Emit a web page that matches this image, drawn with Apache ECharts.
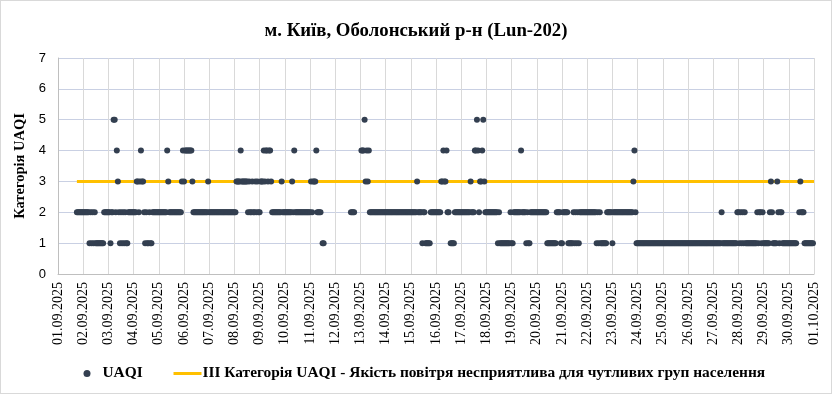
<!DOCTYPE html>
<html>
<head>
<meta charset="utf-8">
<script src="https://cdn.jsdelivr.net/npm/echarts@6/dist/echarts.min.js"></script>
<style>
html,body{margin:0;padding:0;background:#fff;}
#chart{width:832px;height:394px;box-sizing:border-box;border:1px solid #D9D9D9;}
</style>
</head>
<body>
<div id="chart"></div>
<script>
// Tick labels (one per day, 00:00)
const dateLabels = ['01.09.2025','02.09.2025','03.09.2025','04.09.2025','05.09.2025','06.09.2025','07.09.2025','08.09.2025','09.09.2025','10.09.2025','11.09.2025','12.09.2025','13.09.2025','14.09.2025','15.09.2025','16.09.2025','17.09.2025','18.09.2025','19.09.2025','20.09.2025','21.09.2025','22.09.2025','23.09.2025','24.09.2025','25.09.2025','26.09.2025','27.09.2025','28.09.2025','29.09.2025','30.09.2025','01.10.2025'];

// Hourly UAQI category per day (24 chars = hours 00..23, '-' = no data)
const uaqiByDay = [
  '------------------222222', // 01.09
  '222222121212111111112222', // 02.09
  '221225524321212121122222', // 03.09
  '222332343321211211222222', // 04.09
  '222222224322222222222234', // 05.09
  '344444443222222222222223', // 06.09
  '222222222222222222222222', // 07.09
  '223333433333323223223232', // 08.09
  '233343443443222222222322', // 09.09
  '222222232422222222222222', // 10.09
  '23233342222-11----------', // 11.09
  '---------------2222-----', // 12.09
  '-44453434222222222222222', // 13.09
  '222222222222222222222222', // 14.09
  '222222322221221111122222', // 15.09
  '2222233433422-1111222222', // 16.09
  '222222222322244542334532', // 17.09
  '222222222221211111111112', // 18.09
  '112222222422221211222222', // 19.09
  '222222222211111111122221', // 20.09
  '122222111112121212222222', // 21.09
  '222222222121211111122222', // 22.09
  '122222222222222222223421', // 23.09
  '111111111111111111111111', // 24.09
  '111111111111111111111111', // 25.09
  '111111111111111111111111', // 26.09
  '111111112111111111111112', // 27.09
  '212121211111111111212212', // 28.09
  '111111232111132122111111', // 29.09
  '11111111--23222111111111'  // 30.09
];

const thresholdCategory = 3;
const seriesNames = ['UAQI', 'ІІІ Категорія UAQI - Якість повітря несприятлива для чутливих груп населення'];
const chartTitle = 'м. Київ, Оболонський р-н (Lun-202)';
const yAxisTitle = 'Категорія UAQI';

// Build points (x = hours since 01.09.2025 00:00)
const points = [];
uaqiByDay.forEach((s, d) => {
  for (let h = 0; h < s.length; h++) {
    const ch = s[h];
    if (ch !== '-') points.push([d * 24 + h, Number(ch)]);
  }
});
const axisMaxHours = (dateLabels.length - 1) * 24;
const firstHour = points[0][0];
const thresholdLine = [[firstHour, thresholdCategory], [axisMaxHours, thresholdCategory]];

const serif = 'Liberation Serif';
const chart = echarts.init(document.getElementById('chart'), null, {renderer: 'canvas'});
chart.setOption({
  animation: false,
  backgroundColor: '#fff',
  title: {
    text: chartTitle,
    left: 'center',
    top: 16,
    textStyle: {fontFamily: serif, fontWeight: 'bold', fontSize: 18.8, color: '#000'}
  },
  grid: {left: 57, right: 17, top: 57, bottom: 119, containLabel: false},
  legend: [
    {
      data: [seriesNames[0]],
      left: 82.5, top: 365, padding: 0,
      icon: 'circle', itemWidth: 7, itemHeight: 7,
      textStyle: {fontFamily: serif, fontWeight: 'bold', fontSize: 15.4, color: '#000', padding: [0, 0, 0, 7]}
    },
    {
      data: [seriesNames[1]],
      left: 172.5, top: 365, padding: 0,
      icon: 'rect', itemWidth: 28, itemHeight: 3,
      itemGap: 0,
      textStyle: {fontFamily: serif, fontWeight: 'bold', fontSize: 15.4, color: '#000', padding: [0, 0, 0, -4]}
    }
  ],
  xAxis: {
    type: 'value',
    min: 0, max: axisMaxHours, interval: 24,
    axisLine: {show: true, lineStyle: {color: '#BFBFBF', width: 1}},
    axisTick: {show: false},
    splitLine: {show: true, lineStyle: {color: '#D9D9D9', width: 1}},
    axisLabel: {
      rotate: 90, margin: 8,
      fontFamily: serif, fontSize: 14, color: '#000',
      formatter: v => dateLabels[Math.round(v / 24)]
    }
  },
  yAxis: {
    type: 'value',
    min: 0, max: 7, interval: 1,
    name: yAxisTitle,
    nameLocation: 'middle',
    nameGap: 27,
    nameTextStyle: {fontFamily: serif, fontWeight: 'bold', fontSize: 14.5, color: '#000'},
    axisLine: {show: true, lineStyle: {color: '#BFBFBF', width: 1}},
    axisTick: {show: false},
    splitLine: {show: true, lineStyle: {color: '#C9D0E3', width: 1}},
    axisLabel: {fontFamily: 'Liberation Sans', fontSize: 13, color: '#000', margin: 12}
  },
  series: [
    {
      name: seriesNames[1],
      type: 'line',
      data: thresholdLine,
      showSymbol: false,
      symbol: 'none',
      lineStyle: {color: '#FFC000', width: 3},
      itemStyle: {color: '#FFC000'},
      z: 2
    },
    {
      name: seriesNames[0],
      type: 'scatter',
      data: points,
      symbol: 'circle',
      symbolSize: 6,
      itemStyle: {color: '#333F50', opacity: 1},
      z: 3
    }
  ]
});
</script>
</body>
</html>
